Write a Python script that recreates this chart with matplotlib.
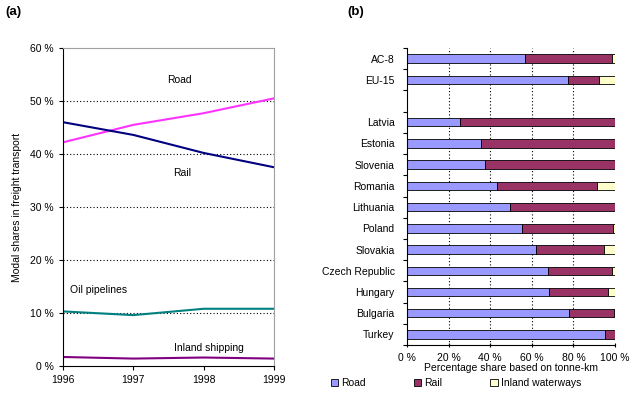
import numpy as np
import matplotlib.pyplot as plt
from matplotlib.patches import Patch

plt.rcParams['font.family'] = ['Liberation Sans', 'DejaVu Sans']

# (a) modal shares, line chart
years = [1996, 1997, 1998, 1999]
road_line = [42.2, 45.5, 47.7, 50.5]
rail_line = [46.0, 43.6, 40.2, 37.5]
pipelines = [10.3, 9.6, 10.8, 10.8]
inland_shipping = [1.7, 1.4, 1.6, 1.4]

# (b) percentage share by country
countries = ['AC-8', 'EU-15', '', 'Latvia', 'Estonia', 'Slovenia', 'Romania',
             'Lithuania', 'Poland', 'Slovakia', 'Czech Republic', 'Hungary',
             'Bulgaria', 'Turkey']
road_share = [56.8, 77.6, 0, 25.6, 35.4, 37.6, 43.5, 49.6, 55.5, 62.1, 68.0, 68.5, 77.9, 95.2]
rail_share = [41.6, 14.9, 0, 74.4, 64.6, 62.4, 47.7, 50.4, 43.7, 32.6, 30.6, 28.3, 21.5, 4.8]
water_share = [1.6, 7.5, 0, 0, 0, 0, 8.8, 0, 0.8, 5.3, 1.4, 3.2, 0.6, 0]

fig = plt.figure(figsize=(6.4, 3.98), dpi=100)
W, H = 640, 398

def px_axes(x0, y0, x1, y1):
    return fig.add_axes([x0 / W, 1 - y1 / H, (x1 - x0) / W, (y1 - y0) / H])

# ---- panel (a)
ax = px_axes(63, 48, 274, 366)
ax.plot(years, road_line, color='#ff33ff', lw=1.5)
ax.plot(years, rail_line, color='#000080', lw=1.5)
ax.plot(years, pipelines, color='#008080', lw=1.5)
ax.plot(years, inland_shipping, color='#800080', lw=1.5)
ax.set_xlim(1996, 1999)
ax.set_ylim(0, 60)
ax.set_xticks(years)
ax.set_yticks(range(0, 61, 10))
ax.set_yticklabels([f'{v} %' for v in range(0, 61, 10)])
for v in range(10, 60, 10):
    ax.axhline(v, color='black', lw=0.8, ls=(0, (1, 2)), zorder=0)
ax.spines['top'].set_color('#a0a0a0')
ax.spines['right'].set_color('#a0a0a0')
ax.tick_params(labelsize=7.5, length=3, width=0.8)
ax.set_ylabel('Modal shares in freight transport', fontsize=7.5, labelpad=6)
ax.text(1997.65, 54, 'Road', fontsize=7.5, ha='center', va='center')
ax.text(1997.7, 36.4, 'Rail', fontsize=7.5, ha='center', va='center')
ax.text(1996.1, 14.3, 'Oil pipelines', fontsize=7.5, ha='left', va='center')
ax.text(1997.58, 3.4, 'Inland shipping', fontsize=7.5, ha='left', va='center')

# ---- panel (b)
bx = px_axes(407, 48, 615, 345)
ypos = np.arange(len(countries))
road_share = np.array(road_share)
rail_share = np.array(rail_share)
water_share = np.array(water_share)
kw = dict(height=0.4, edgecolor='black', linewidth=0.6, zorder=2)
bx.barh(ypos, road_share, color='#9999ff', **kw)
bx.barh(ypos, rail_share, left=road_share, color='#993366', **kw)
bx.barh(ypos, water_share, left=road_share + rail_share, color='#ffffcc', **kw)
bx.set_ylim(len(countries) - 0.5, -0.5)
bx.set_xlim(0, 100)
bx.set_yticks(ypos)
bx.set_yticklabels(countries)
bx.set_yticks(np.arange(-0.5, len(countries)), minor=True)
bx.tick_params(axis='y', which='major', length=0, labelsize=7.5, pad=9)
bx.tick_params(axis='y', which='minor', length=3, width=0.8)
bx.set_xticks(range(0, 101, 20))
bx.set_xticklabels([f'{v} %' for v in range(0, 101, 20)])
bx.tick_params(axis='x', labelsize=7.5, length=3, width=0.8, direction='inout', pad=4)
for v in range(20, 100, 20):
    bx.axvline(v, color='black', lw=0.8, ls=(0, (1, 2)), zorder=0)
bx.spines['top'].set_visible(False)
bx.spines['right'].set_visible(False)
bx.set_xlabel('Percentage share based on tonne-km', fontsize=7.5, labelpad=0)

handles = [Patch(facecolor='#9999ff', edgecolor='black', lw=0.6, label='Road'),
           Patch(facecolor='#993366', edgecolor='black', lw=0.6, label='Rail'),
           Patch(facecolor='#ffffcc', edgecolor='black', lw=0.6, label='Inland waterways')]
fig.legend(handles=handles, loc='center left', bbox_to_anchor=(331 / W, 1 - 383 / H),
           ncol=3, frameon=False, fontsize=7.5, handlelength=0.7, handleheight=0.7,
           handletextpad=0.3, columnspacing=4.6, borderaxespad=0, borderpad=0)

fig.text(5 / W, 1 - 12 / H, '(a)', fontsize=9.5, fontweight='bold', va='center')
fig.text(347 / W, 1 - 12 / H, '(b)', fontsize=9.5, fontweight='bold', va='center')

fig.savefig('out.png', dpi=100)
